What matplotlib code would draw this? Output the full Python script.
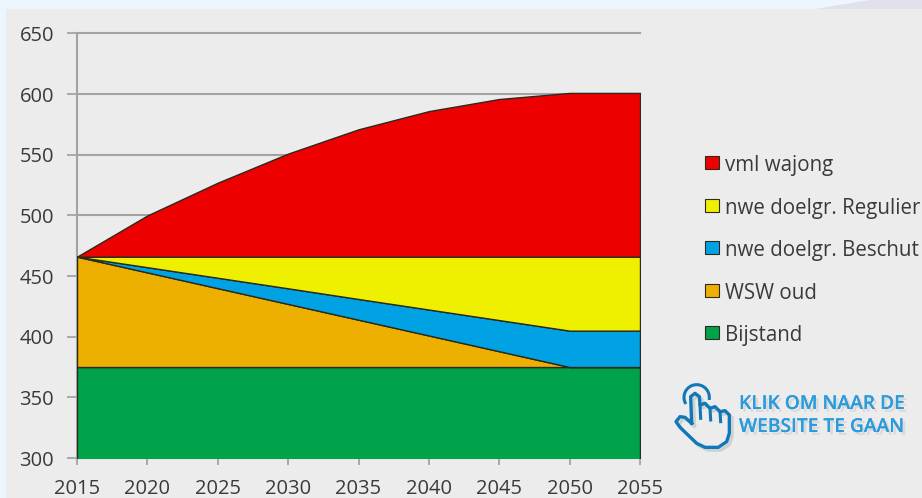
import matplotlib
matplotlib.use('Agg')
from matplotlib import pyplot as plt
from matplotlib import patheffects
from matplotlib.lines import Line2D
from matplotlib.patches import Polygon, Rectangle
from matplotlib.transforms import Affine2D
import numpy as np

plt.rcParams['font.family'] = ['Open Sans', 'DejaVu Sans']

years = [2015, 2020, 2025, 2030, 2035, 2040, 2045, 2050, 2055]
bijstand = [375, 375, 375, 375, 375, 375, 375, 375, 375]
wsw_oud = [91, 78, 65, 52, 39, 26, 13, 0, 0]
beschut = [0, 4.3, 8.6, 12.9, 17.1, 21.4, 25.7, 30, 30]
regulier = [0, 8.7, 17.4, 26.1, 34.9, 43.6, 52.3, 61, 61]
wajong = [0, 34, 61, 85, 105, 120, 130, 135, 135]

labels = ['Bijstand', 'WSW oud', 'nwe doelgr. Beschut', 'nwe doelgr. Regulier', 'vml wajong']
colors = ['#00A24A', '#EEB000', '#00A2E4', '#EFEF00', '#EE0000']
yticks = [300, 350, 400, 450, 500, 550, 600, 650]

W, H = 922, 498
fig = plt.figure(figsize=(W/100, H/100), dpi=100, facecolor='#EDF6FC')

# pixel coordinates for the decoration, origin top left
px = Affine2D().scale(1/W, -1/H).translate(0, 1) + fig.transFigure

fig.add_artist(Polygon([[815, 9], [870, 0], [922, 0], [922, 9]], transform=px, fc='#E1E1EC', ec='none', zorder=-2))
fig.add_artist(Rectangle((6, 9), W-6, H-9, transform=px, fc='#ECECEC', ec='none', zorder=-1))

ax = fig.add_axes([77/W, 1-458/H, (640-77)/W, (458-33.5)/H])
ax.patch.set_visible(False)
ax.stackplot(years, bijstand, wsw_oud, beschut, regulier, wajong, colors=colors,
             edgecolor='#2A2A1E', linewidth=1.0, zorder=3, baseline='zero')
ax.set_xlim(2015, 2055)
ax.set_ylim(300, 650)
ax.set_xticks(years)
ax.set_yticks(yticks)
ax.grid(axis='y', color='#A3A3A3', lw=1.5, zorder=1, clip_on=False)
ax.set_axisbelow(True)
for s in ['top', 'right']:
    ax.spines[s].set_visible(False)
for s in ['left', 'bottom']:
    ax.spines[s].set_color('#A3A3A3')
    ax.spines[s].set_linewidth(1.5)
    ax.spines[s].set_zorder(2)
ax.tick_params(axis='both', color='#A3A3A3', width=1.3, labelsize=14.5, labelcolor='#3A3A3A')
ax.tick_params(axis='y', length=7, pad=9.5)
ax.tick_params(axis='x', length=5, pad=10)

# legend by hand, the rows have to sit evenly
for i, (c, lab) in enumerate(zip(colors[::-1], labels[::-1])):
    y = 163 + i*42.5
    fig.add_artist(Rectangle((705, y-6.5), 13.5, 13, transform=px, fc=c, ec='#2A2A1E', lw=0.8))
    fig.text(725/W, 1-y/H, lab, fontsize=14.8, color='#3A3A3A', va='center_baseline', ha='left')

# hand icon, points taken from a 3x crop starting at (660, 340)
icon = Affine2D().scale(1/3).translate(660, 340) + px
shadow = [patheffects.SimpleLineShadow(offset=(2, -2), alpha=0.18, shadow_color='#555555'), patheffects.Normal()]
hand_x = [95, 75, 60, 48, 60, 110, 135, 175, 200, 208, 208, 195, 180, 165, 150, 135, 120, 118, 105, 92, 95]
hand_y = [250, 232, 230, 245, 262, 310, 322, 322, 305, 280, 225, 212, 215, 200, 205, 190, 195, 170, 160, 170, 250]
fig.add_artist(Line2D(hand_x, hand_y, transform=icon, color='#0F78B8', lw=2.4, solid_joinstyle='round', path_effects=shadow))
for fx, fy in [([120, 122], [195, 235]), ([150, 152], [205, 240]), ([180, 182], [215, 245])]:
    fig.add_artist(Line2D(fx, fy, transform=icon, color='#0F78B8', lw=2.2))
t = np.deg2rad(np.linspace(-205, 5, 30))
fig.add_artist(Line2D(110+38*np.cos(t), 172+38*np.sin(t), transform=icon, color='#0F78B8', lw=2.2))

# link text
text_fx = [patheffects.withSimplePatchShadow(offset=(2, -2), alpha=0.12, shadow_rgbFace='#555555'), patheffects.Normal()]
for txt, y in [('KLIK OM NAAR DE', 404), ('WEBSITE TE GAAN', 427)]:
    fig.text(739/W, 1-y/H, txt, color='#2B9BDC', fontsize=13.8, fontweight='semibold', va='center',
             ha='left', path_effects=text_fx)

fig.savefig('out.png', dpi=100, facecolor=fig.get_facecolor())
